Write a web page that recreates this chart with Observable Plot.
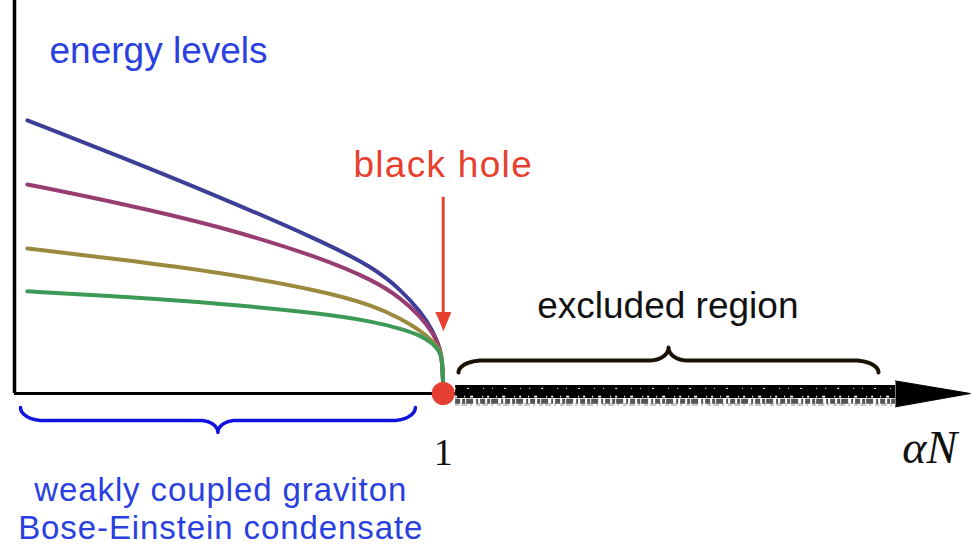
<!DOCTYPE html>
<html><head><meta charset="utf-8">
<script src="https://cdn.jsdelivr.net/npm/d3@7"></script>
<script src="https://cdn.jsdelivr.net/npm/@observablehq/plot@0.6"></script>
<style>body{margin:0;background:#fff}</style>
</head><body><div id="chart"></div>
<script>
// coupling alpha*N (x) sample positions
const xs = [0.030, 0.247, 0.481, 0.714, 0.837, 0.900, 0.947, 0.977, 0.994, 0.998, 1.0];
// energy levels (arbitrary units)
const level4 = [69.5, 60.3, 49.9, 38.9, 32.1, 26.5, 20.9, 15.8, 11.2, 7.1, 2.0];
const level3 = [53.2, 48.4, 42.5, 34.6, 28.8, 24.4, 19.6, 15.3, 11.2, 7.4, 2.0];
const level2 = [36.9, 34.1, 30.8, 26.2, 22.4, 19.1, 16.0, 13.2, 10.9, 8.4, 2.0];
const level1 = [26.0, 24.7, 22.9, 20.4, 18.3, 16.5, 14.8, 12.7, 10.4, 7.6, 2.0];
const levelNames = ["level4", "level3", "level2", "level1"];
const levelColors = ["#3d3e98", "#983d72", "#9a8a3e", "#3d9a56"];

// annotations
const labels = ["energy levels", "black hole", "excluded region", "weakly coupled graviton\nBose-Einstein condensate"];
const labelX = [0.336, 1.0, 1.524, 0.481];
const labelY = [84.2, 55.0, 19.1, -37.15];
const labelColor = ["#2a3fe0", "#e8402f", "#111111", "#2a3fe0"];
const labelSize = [37, 37, 37, 33];
const tickLabel = "1";
const axisLabel = "αN";

// braces: [x0, x1, level, endY, tipY]
const braceBEC = [0.014, 0.935, -6.87, -3.56, -9.92];
const braceExcl = [1.0357, 2.0154, 8.4, 5.34, 11.7];
const excludedRange = [1.029, 2.055];
const xMax = 2.23;

const series = [level4, level3, level2, level1];
const curves = series.flatMap((vals, i) => vals.map((v, j) => ({x: xs[j], y: v, level: levelNames[i]})));

function brace([x0, x1, yl, ye, yt], n = 24) {
  const r = (x1 - x0) * 0.058, r2 = (x1 - x0) * 0.045, xm = (x0 + x1) / 2;
  const pts = [];
  for (let k = 0; k <= n; k++) { const t = k / n * Math.PI / 2; pts.push({x: x0 + r * (1 - Math.cos(t)), y: yl + (ye - yl) * (1 - Math.sin(t))}); }
  for (let k = 0; k <= n; k++) { const t = k / n * Math.PI / 2; pts.push({x: xm - r2 + r2 * Math.sin(t), y: yl + (yt - yl) * (1 - Math.cos(t))}); }
  for (let k = n; k >= 0; k--) { const t = k / n * Math.PI / 2; pts.push({x: xm + r2 - r2 * Math.sin(t), y: yl + (yt - yl) * (1 - Math.cos(t))}); }
  for (let k = n; k >= 0; k--) { const t = k / n * Math.PI / 2; pts.push({x: x1 - r * (1 - Math.cos(t)), y: yl + (ye - yl) * (1 - Math.sin(t))}); }
  return pts;
}

const sans = "'Liberation Sans', Helvetica, Arial, sans-serif";
const serif = "'Liberation Serif', 'DejaVu Serif', serif";
const textRows = labels.map((t, i) => ({text: t, x: labelX[i], y: labelY[i], color: labelColor[i], size: labelSize[i]}));
const band = (y, stroke, strokeWidth, strokeDasharray) =>
  Plot.ruleY([y], {x1: excludedRange[0], x2: excludedRange[1], stroke, strokeWidth, strokeDasharray});

const chart = Plot.plot({
  width: 972, height: 547,
  marginLeft: 14, marginRight: 2, marginTop: 0, marginBottom: 154,
  x: {domain: [0, xMax], axis: null},
  y: {domain: [0, 100], axis: null},
  color: {domain: levelNames, range: levelColors},
  style: {background: "#fff"},
  marks: [
    // axes
    Plot.ruleX([0], {y1: 0, y2: 100, stroke: "#000", strokeWidth: 3.5}),
    Plot.ruleY([0], {x1: 0, x2: excludedRange[0], stroke: "#000", strokeWidth: 3}),
    // excluded rough band
    band(-2.8, "#c8c8c8", 3, "4,2,6,3,2,4"),
    band(-2.0, "#555", 5, "5,2,3,1,7,3,2,2"),
    band(0.5, "#000", 13, null),
    band(-0.8, "#fff", 1.6, "2,7,1,5,3,9,1,4"),
    band(1.3, "#fff", 1, "1,11,2,14,1,8"),
    Plot.line([{x: excludedRange[1], y: 3.2}, {x: xMax, y: 0}, {x: excludedRange[1], y: -3.4}], {x: "x", y: "y", fill: "#000", stroke: "#000", strokeWidth: 1}),
    // energy level curves
    Plot.line(curves, {x: "x", y: "y", z: "level", stroke: "level", strokeWidth: 4, curve: "basis"}),
    // red arrow
    Plot.ruleX([1], {y1: 49.9, y2: 19.5, stroke: "#e8402f", strokeWidth: 3}),
    Plot.line([{x: 0.9825, y: 20.6}, {x: 1.0175, y: 20.6}, {x: 1, y: 16.0}], {x: "x", y: "y", fill: "#e8402f", stroke: "#e8402f", strokeWidth: 1}),
    // black hole point
    Plot.dot([{x: 1, y: 0}], {x: "x", y: "y", r: 11.5, fill: "#e63e31", stroke: "none"}),
    // braces
    Plot.line(brace(braceBEC), {x: "x", y: "y", stroke: "#1212e0", strokeWidth: 3.5, curve: "linear"}),
    Plot.line(brace(braceExcl), {x: "x", y: "y", stroke: "#1a1207", strokeWidth: 4, curve: "linear"}),
    // labels
    Plot.text(textRows, {x: "x", y: "y", text: "text", fill: "color", fontSize: "size", lineHeight: 1.16, fontFamily: sans, textAnchor: "middle", lineAnchor: "bottom"}),
    Plot.text([{x: 1, y: -18.3}], {x: "x", y: "y", text: () => tickLabel, fill: "#111", fontSize: 38, fontFamily: serif, textAnchor: "middle", lineAnchor: "bottom"}),
    Plot.text([{x: 2.135, y: -17.8}], {x: "x", y: "y", text: () => axisLabel, fill: "#111", fontSize: 46, fontStyle: "italic", fontFamily: serif, textAnchor: "middle", lineAnchor: "bottom"})
  ]
});
d3.select(chart).selectAll("text").filter(function () { return this.textContent === "black hole"; }).attr("letter-spacing", "1.3px");
d3.select(chart).selectAll("text").filter(function () { return this.textContent.startsWith("weakly"); }).attr("letter-spacing", "0.9px");
document.getElementById("chart").appendChild(chart);
</script>
</body></html>
